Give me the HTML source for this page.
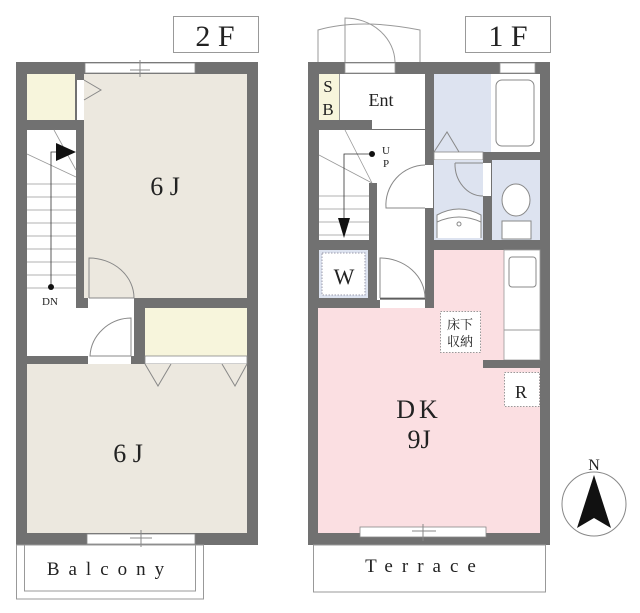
<!DOCTYPE html>
<html><head><meta charset="utf-8"><style>
body{margin:0;background:#fff}
svg{display:block}
text{font-family:"Liberation Serif","Noto Serif CJK SC",serif;fill:#222}
</style></head><body>
<svg width="640" height="613" viewBox="0 0 640 613" xmlns="http://www.w3.org/2000/svg">
<rect x="173.5" y="16.5" width="85" height="36" fill="#fff" stroke="#999"/>
<text x="215" y="46" font-size="30" text-anchor="middle">2 F</text>
<rect x="465.5" y="16.5" width="85" height="36" fill="#fff" stroke="#999"/>
<text x="508" y="46" font-size="30" text-anchor="middle">1 F</text>

<!-- ===== 2F ===== -->
<rect x="16" y="62" width="242" height="483" fill="#717171"/>
<rect x="27" y="74" width="48" height="46" fill="#f7f5dc"/>
<rect x="27" y="130" width="49" height="178" fill="#fff"/>
<rect x="84" y="74" width="163" height="224" fill="#ece8df"/>
<rect x="77" y="80" width="7" height="40" fill="#fff"/>
<path d="M84 80 L101 90 L84 100" fill="none" stroke="#888"/>
<rect x="85" y="63" width="110" height="10" fill="#fff" stroke="#888" stroke-width="0.8"/>
<path d="M130 70 H150 M140 60 V77" stroke="#888" fill="none"/>
<rect x="27" y="308" width="107" height="48" fill="#fff"/>
<rect x="88" y="298" width="46" height="10" fill="#fff"/>
<path d="M89 298 V258 A45 40 0 0 1 134 298 H89" fill="none" stroke="#888"/>
<rect x="145" y="308" width="102" height="48" fill="#f7f5dc"/>
<rect x="145" y="356" width="102" height="8" fill="#fff" stroke="#888" stroke-width="0.8"/>
<rect x="27" y="364" width="220" height="169" fill="#ece8df"/>
<rect x="88" y="356" width="43" height="8" fill="#fff"/>
<path d="M131 356 V318 A42 40 0 0 0 90 356 Z" fill="none" stroke="#888"/>
<path d="M145 364 L158 386 L171 364 M222 364 L235 386 L247 364" fill="none" stroke="#888"/>
<rect x="87" y="534" width="108" height="10" fill="#fff" stroke="#888" stroke-width="0.8"/>
<path d="M130 538 H152 M141 530 V547" stroke="#888"/>
<g stroke="#999" fill="none" stroke-width="0.8">
<path d="M27 184 H76 M27 197 H76 M27 210 H76 M27 223 H76 M27 236 H76 M27 249 H76 M27 262 H76 M27 275 H76 M27 288 H76"/>
<path d="M54 130 L76 170 M27 154 L76 177"/>
<path d="M51 287 V152 H60" stroke="#333"/>
</g>
<polygon points="56,143 76,152 56,161" fill="#111"/>
<circle cx="51" cy="287" r="3" fill="#111"/>
<text x="50" y="305" font-size="11" text-anchor="middle">DN</text>
<text x="165" y="195" font-size="26" text-anchor="middle">6 J</text>
<text x="128" y="462" font-size="26" text-anchor="middle">6 J</text>
<rect x="16.5" y="545" width="187" height="54" fill="none" stroke="#999"/>
<rect x="24.5" y="545" width="171" height="46" fill="none" stroke="#999"/>
<text x="110" y="575" font-size="19" text-anchor="middle" letter-spacing="9">Balcony</text>

<!-- ===== 1F ===== -->
<path d="M318 62 V30 Q360 18 420 30 V62" fill="none" stroke="#999"/>
<path d="M345 62 V18 A50 45 0 0 1 395 62" fill="none" stroke="#999"/>
<rect x="308" y="62" width="242" height="483" fill="#717171"/>
<rect x="345" y="63" width="50" height="10" fill="#fff" stroke="#999" stroke-width="0.8"/>
<rect x="500" y="63" width="35" height="10" fill="#fff" stroke="#999" stroke-width="0.8"/>
<rect x="319" y="74" width="20" height="46" fill="#f7f5dc"/>
<rect x="339" y="74" width="86" height="46" fill="#fff"/>
<path d="M339.5 74 V120" stroke="#999"/>
<text x="328" y="92" font-size="17" text-anchor="middle">S</text>
<text x="328" y="115" font-size="17" text-anchor="middle">B</text>
<text x="381" y="106" font-size="18" text-anchor="middle">Ent</text>
<rect x="372" y="120" width="53" height="9" fill="#fff"/>
<rect x="319" y="130" width="50" height="110" fill="#fff"/>
<rect x="369" y="130" width="56" height="53" fill="#fff"/>
<rect x="377" y="183" width="48" height="117" fill="#fff"/>
<rect x="425" y="165" width="8" height="43" fill="#fff"/>
<path d="M425 165 A40 40 0 0 0 386 208 H425" fill="none" stroke="#888"/>
<rect x="434" y="74" width="57" height="78" fill="#dde3f0"/>
<rect x="491" y="74" width="49" height="78" fill="#fff"/>
<rect x="496" y="80" width="38" height="66" rx="6" fill="#fff" stroke="#888"/>
<rect x="434" y="152" width="49" height="8" fill="#fff" stroke="#888" stroke-width="0.8"/>
<path d="M434 152 L447 132 L459 152" fill="none" stroke="#888"/>
<rect x="434" y="160" width="49" height="80" fill="#dde3f0"/>
<rect x="483" y="163" width="8" height="33" fill="#fff"/>
<path d="M455 163 A28 32 0 0 0 483 196" fill="none" stroke="#888"/>
<path d="M455 163 H483" stroke="#888"/>
<path d="M437 238 V215 Q459 203 481 215 V238" fill="#fff" stroke="#888"/>
<path d="M437 222 Q459 212 481 222" fill="none" stroke="#888"/>
<circle cx="459" cy="224" r="2" fill="none" stroke="#888"/>
<rect x="492" y="160" width="48" height="80" fill="#dde3f0"/>
<ellipse cx="516" cy="200" rx="14" ry="16" fill="#fff" stroke="#888"/>
<rect x="502" y="221" width="29" height="18" fill="#fff" stroke="#888"/>
<g stroke="#999" fill="none" stroke-width="0.8">
<path d="M319 196 H369 M319 209 H369 M319 222 H369 M319 235 H369"/>
<path d="M345 130 L372 183 M319 155 L372 183"/>
<path d="M344 225 V154 H372" stroke="#333"/>
</g>
<polygon points="338,218 350,218 344,238" fill="#111"/>
<circle cx="372" cy="154" r="3" fill="#111"/>
<text x="386" y="154" font-size="11" text-anchor="middle">U</text>
<text x="386" y="167" font-size="11" text-anchor="middle">P</text>
<rect x="319" y="250" width="49" height="48" fill="#dde3f0"/>
<rect x="322" y="253" width="43" height="42" fill="#fff" stroke="#99a" stroke-dasharray="1.5 1.5"/>
<text x="344" y="284" font-size="22" text-anchor="middle">W</text>
<rect x="377" y="250" width="48" height="50" fill="#fff"/>
<rect x="380" y="298" width="45" height="10" fill="#fff"/>
<path d="M380 298 V258 A45 40 0 0 1 425 298 H380" fill="none" stroke="#888"/>
<path d="M380 299 H425" stroke="#333"/>
<rect x="434" y="250" width="106" height="58" fill="#fbdfe2"/>
<rect x="318" y="308" width="222" height="225" fill="#fbdfe2"/>
<rect x="504" y="250" width="36" height="110" fill="#fff" stroke="#999" stroke-width="0.8"/>
<rect x="509" y="257" width="27" height="30" rx="3" fill="#fff" stroke="#888"/>
<path d="M504 330 H540" stroke="#999"/>
<rect x="483" y="360" width="57" height="8" fill="#717171"/>
<rect x="504.5" y="372.5" width="35" height="34" fill="#fff" stroke="#999" stroke-dasharray="1.5 1.5"/>
<text x="521" y="398" font-size="18" text-anchor="middle">R</text>
<rect x="440.5" y="311.5" width="40" height="41" fill="#fff" stroke="#999" stroke-dasharray="1.5 1.5"/>
<text x="460" y="329" font-size="13" text-anchor="middle">床下</text>
<text x="460" y="346" font-size="13" text-anchor="middle">収納</text>
<text x="419" y="418" font-size="26" text-anchor="middle" letter-spacing="4">DK</text>
<text x="419" y="448" font-size="26" text-anchor="middle">9J</text>
<rect x="360" y="527" width="126" height="10" fill="#fff" stroke="#888" stroke-width="0.8"/>
<path d="M412 531 H436 M423 524 V541" stroke="#888"/>
<rect x="313.5" y="545" width="232" height="47" fill="none" stroke="#999"/>
<text x="425" y="572" font-size="19" text-anchor="middle" letter-spacing="9">Terrace</text>
<circle cx="594" cy="504" r="32" fill="#fff" stroke="#888"/>
<polygon points="594,475 577,528 594,518 611,528" fill="#111"/>
<text x="594" y="470" font-size="16" text-anchor="middle">N</text>
</svg>
</body></html>
